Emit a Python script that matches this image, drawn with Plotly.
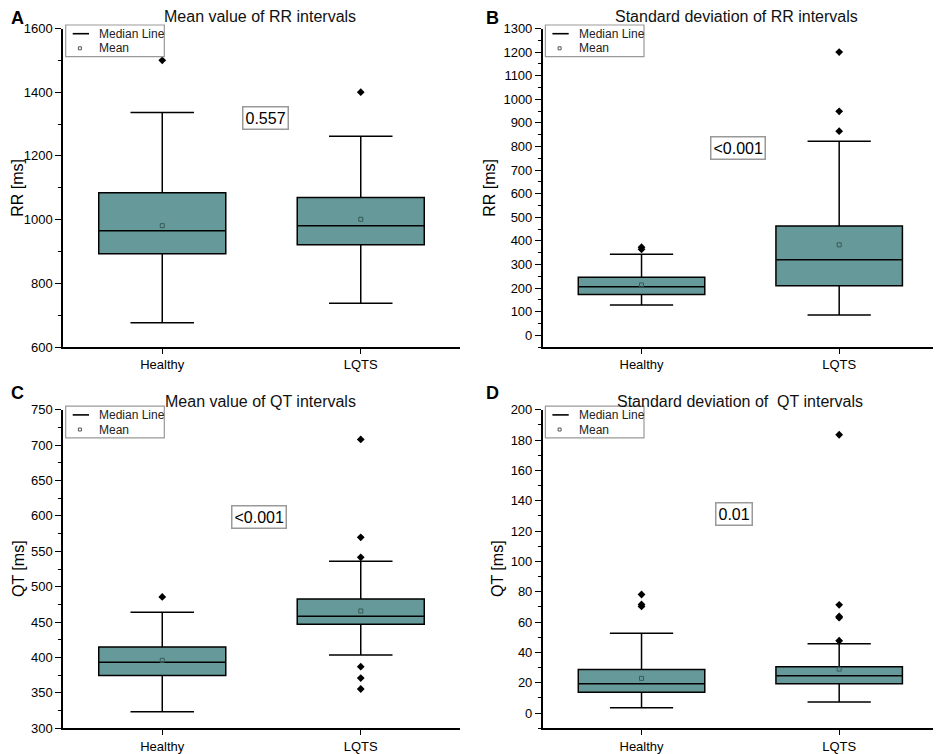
import plotly.graph_objects as go

# The page places the figure 8 px in from the top-left corner, so the figure
# is drawn 8 px smaller and reference pixel positions are shifted by 8.
OFF = 8
W, H = 941 - OFF, 754 - OFF
FONT = "Liberation Sans, Arial, sans-serif"
BOX_FILL = "#669999"

categories = ["Healthy", "LQTS"]

# Panel A: mean value of RR intervals
a_q1 = [893, 921]
a_med = [965, 981]
a_q3 = [1084, 1069]
a_lo = [676, 737]
a_hi = [1336, 1262]
a_mean = [981, 1001]
a_out_healthy = [1500]
a_out_lqts = [1400]

# Panel B: standard deviation of RR intervals
b_q1 = [172, 210]
b_med = [205, 320]
b_q3 = [246, 463]
b_lo = [128, 86]
b_hi = [343, 822]
b_mean = [213, 383]
b_out_healthy = [364, 373]
b_out_lqts = [865, 949, 1200]

# Panel C: mean value of QT intervals
c_q1 = [374.4, 446.9]
c_med = [393.2, 458.2]
c_q3 = [414.9, 482.6]
c_lo = [323.5, 403.6]
c_hi = [463.8, 535.8]
c_mean = [396, 465.7]
c_out_healthy = [485.5]
c_out_lqts = [355.5, 371, 387, 541.5, 569.7, 708]

# Panel D: standard deviation of QT intervals
d_q1 = [13.8, 19.3]
d_med = [19.3, 24.6]
d_q3 = [28.8, 30.5]
d_lo = [3.5, 7.3]
d_hi = [52.7, 45.7]
d_mean = [22.9, 29.0]
d_out_healthy = [70.3, 71.6, 78.2]
d_out_lqts = [47.7, 62.9, 63.7, 71.4, 183.5]

titles = ["Mean value of RR intervals", "Standard deviation of RR intervals",
          "Mean value of QT intervals", "Standard deviation of  QT intervals"]
ytitles = ["RR [ms]", "RR [ms]", "QT [ms]", "QT [ms]"]
letters = ["A", "B", "C", "D"]
pvalues = ["0.557", "<0.001", "<0.001", "0.01"]
p_pos = [(0.52, 1318), (0.49, 793), (0.487, 598), (0.47, 131)]
yranges = [(600, 1600), (-50, 1300), (300, 750), (-10, 200)]
ydticks = [200, 100, 50, 20]
ytick0 = [600, 0, 300, 0]

panels = [
    (a_q1, a_med, a_q3, a_lo, a_hi, a_mean, a_out_healthy, a_out_lqts),
    (b_q1, b_med, b_q3, b_lo, b_hi, b_mean, b_out_healthy, b_out_lqts),
    (c_q1, c_med, c_q3, c_lo, c_hi, c_mean, c_out_healthy, c_out_lqts),
    (d_q1, d_med, d_q3, d_lo, d_hi, d_mean, d_out_healthy, d_out_lqts),
]

# plot areas in page pixels: (left, right, top, bottom)
areas = [(63, 460, 28.5, 347), (542.7, 938, 28.5, 347),
         (63, 460, 409.7, 728.3), (542.7, 938, 409.7, 728.3)]
# page positions of y-axis title centres, panel letters and titles
ytitle_x = [18, 490, 18, 497]
letter_pos = [(9, 18), (484, 18), (9, 393), (484, 393)]
title_pos = [(260, 16.5), (736, 16.5), (261, 401), (740, 401)]


def px(x):
    return (x - OFF) / W


def py(y):
    return 1 - (y - OFF) / H


fig = go.Figure()
shapes = []
annotations = []

for i, (q1, med, q3, lo, hi, mean, oh, ol) in enumerate(panels):
    xa = "x" if i == 0 else f"x{i + 1}"
    ya = "y" if i == 0 else f"y{i + 1}"
    fig.add_trace(go.Box(
        x=categories, q1=q1, median=med, q3=q3, lowerfence=lo, upperfence=hi,
        width=0.64, whiskerwidth=0.5, fillcolor=BOX_FILL,
        line=dict(color="black", width=1.5), boxpoints=False,
        xaxis=xa, yaxis=ya, showlegend=False, hoverinfo="skip"))
    fig.add_trace(go.Scatter(
        x=categories, y=mean, mode="markers",
        marker=dict(symbol="square-open", size=4, color="#3a5a5a",
                    line=dict(width=1)),
        xaxis=xa, yaxis=ya, showlegend=False))
    fig.add_trace(go.Scatter(
        x=[categories[0]] * len(oh) + [categories[1]] * len(ol), y=oh + ol,
        mode="markers", marker=dict(symbol="diamond", size=6, color="black"),
        xaxis=xa, yaxis=ya, showlegend=False))

    l, r, t, b = areas[i]
    sfx = "" if i == 0 else str(i + 1)
    fig.layout["xaxis" + sfx] = dict(
        domain=[px(l), px(r)], anchor=ya, type="category",
        categoryorder="array", categoryarray=categories, automargin=False,
        range=[-0.5, 1.5], showline=True, linecolor="black", linewidth=1.5,
        ticks="outside", ticklen=5, tickwidth=1.2, tickcolor="black",
        showgrid=False, zeroline=False,
        tickfont=dict(family=FONT, size=13, color="black"))
    fig.layout["yaxis" + sfx] = dict(
        domain=[py(b), py(t)], anchor=xa, range=list(yranges[i]),
        tick0=ytick0[i], dtick=ydticks[i], automargin=False,
        showline=True, linecolor="black", linewidth=1.5,
        ticks="outside", ticklen=6, tickwidth=1.2, tickcolor="black",
        minor=dict(ticks="outside", ticklen=3, tickwidth=1, tickcolor="black",
                   dtick=ydticks[i] / 2, tick0=ytick0[i], showgrid=False),
        showgrid=False, zeroline=False,
        tickfont=dict(family=FONT, size=13, color="black"))

    # title
    annotations.append(dict(
        x=px(title_pos[i][0]), y=py(title_pos[i][1]), xref="paper",
        yref="paper", text=titles[i], showarrow=False, xanchor="center",
        yanchor="middle", font=dict(family=FONT, size=16, color="#111")))
    # panel letter
    annotations.append(dict(
        x=px(letter_pos[i][0]), y=py(letter_pos[i][1]),
        xref="paper", yref="paper",
        text=f"<b>{letters[i]}</b>", showarrow=False, xanchor="left",
        yanchor="middle", font=dict(family=FONT, size=18, color="black")))
    # y title
    annotations.append(dict(
        x=px(ytitle_x[i]), y=py((t + b) / 2), xref="paper", yref="paper",
        text=ytitles[i], showarrow=False, textangle=-90, xanchor="center",
        yanchor="middle", font=dict(family=FONT, size=16, color="black")))
    # p-value box
    annotations.append(dict(
        x=p_pos[i][0], y=p_pos[i][1], xref=xa, yref=ya,
        text=pvalues[i], showarrow=False, xanchor="center", yanchor="middle",
        bordercolor="#999", borderwidth=1.5, borderpad=2, bgcolor="white",
        font=dict(family=FONT, size=16, color="black")))
    # legend box
    lx0, ly0 = l + 2.7, t - 3.5
    lx1, ly1 = lx0 + 98.6, ly0 + 31.7
    shapes.append(dict(type="rect", xref="paper", yref="paper",
                       x0=px(lx0), x1=px(lx1), y0=py(ly0), y1=py(ly1),
                       line=dict(color="#999", width=1.2), fillcolor="white",
                       layer="above"))
    shapes.append(dict(type="line", xref="paper", yref="paper",
                       x0=px(lx0 + 7), x1=px(lx0 + 23.3),
                       y0=py(ly0 + 8.7), y1=py(ly0 + 8.7),
                       line=dict(color="black", width=1.6), layer="above"))
    shapes.append(dict(type="rect", xref="paper", yref="paper",
                       x0=px(lx0 + 12.7), x1=px(lx0 + 15.7),
                       y0=py(ly0 + 21.8), y1=py(ly0 + 24.8),
                       line=dict(color="#555", width=1), layer="above"))
    annotations.append(dict(
        x=px(lx0 + 31.6), y=py(ly0 + 8.7), xref="paper", yref="paper",
        text="Median Line", showarrow=False, xanchor="left", yanchor="middle",
        font=dict(family=FONT, size=12, color="#222")))
    annotations.append(dict(
        x=px(lx0 + 31.6), y=py(ly0 + 23.3), xref="paper", yref="paper",
        text="Mean", showarrow=False, xanchor="left", yanchor="middle",
        font=dict(family=FONT, size=12, color="#222")))

fig.update_layout(
    width=W, height=H, margin=dict(l=0, r=0, t=0, b=0, autoexpand=False),
    paper_bgcolor="white", plot_bgcolor="white",
    shapes=shapes, annotations=annotations, showlegend=False,
    font=dict(family=FONT))

fig.write_html("out.html")
